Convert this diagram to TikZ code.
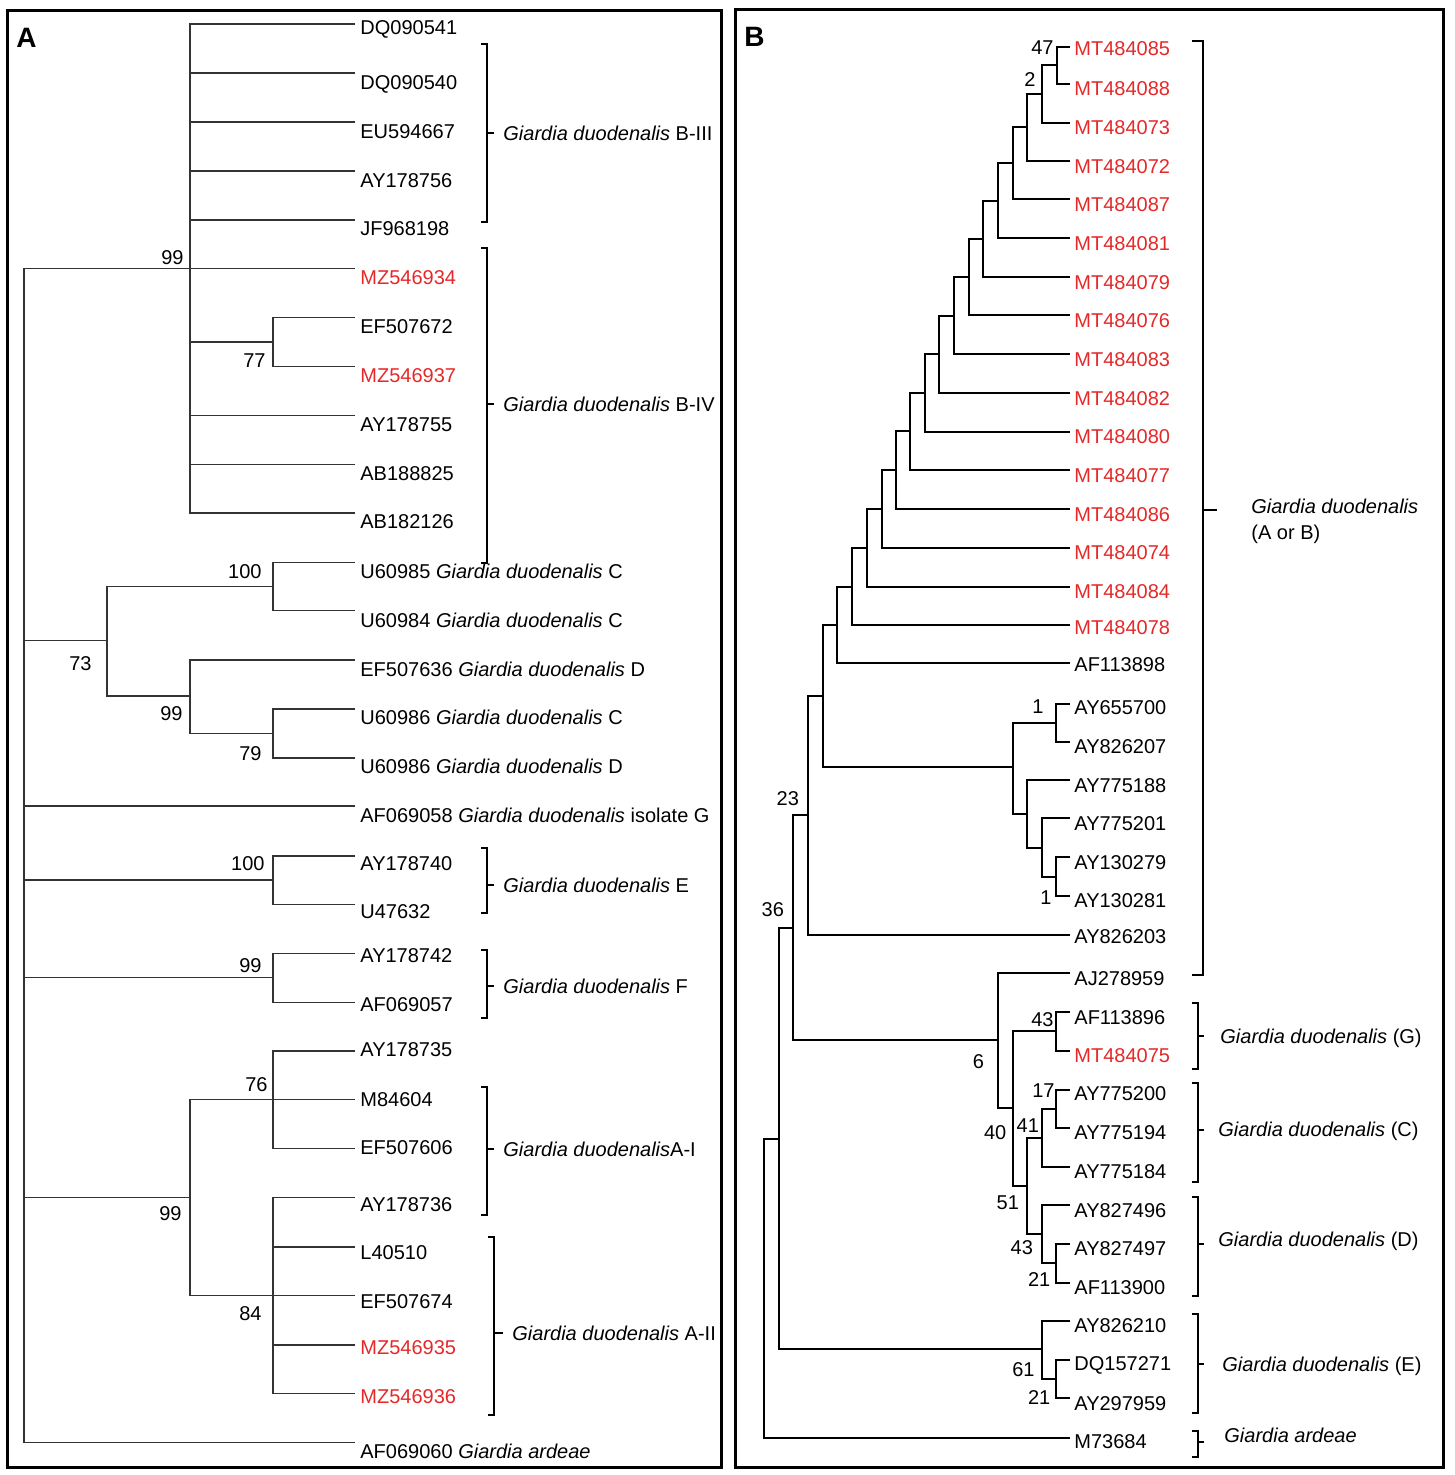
\documentclass[tikz,border=0pt]{standalone}
\usepackage{fontspec}
\setmainfont{Liberation Sans}
\usetikzlibrary{positioning}

\definecolor{isored}{RGB}{229,40,40}

\tikzset{
	branchA/.style={line width=0.65pt, black!80},
	branchB/.style={line width=1pt, black},
	leaftxt/.style={anchor=base west, inner sep=0pt, yshift=-3.6pt},
	boot/.style={inner sep=0pt},
	cladebar/.style={line width=0.7pt},
	cladetxt/.style={anchor=base west, inner sep=0pt, yshift=-3.6pt},
	panel/.style={line width=1.5pt},
	panelid/.style={anchor=base west, inner sep=0pt, font=\fontsize{14pt}{16pt}\selectfont\bfseries},
}

\begin{document}
\begin{tikzpicture}[x=0.5pt, y=-0.5pt, font=\fontsize{10pt}{12pt}\selectfont]
	\useasboundingbox (0,0) rectangle (1454,1475);
	
	% Panel frames
	\draw[panel] (7,11) rectangle (721,1467);
	\draw[panel] (735,10) rectangle (1443,1467);
	\node[panelid] (idA) at (16,48) {A};
	\node[panelid] (idB) at (744,47) {B};
	
	%%%%%%%% Panel A
	% Leaves: name / branch y / text y / colour / label
	\foreach \nm/\y/\ty/\col/\lbl in {
		a1/24/27/black/DQ090541, a2/73/82/black/DQ090540, a3/122/131/black/EU594667,
		a4/171/180/black/AY178756, a5/220/228/black/JF968198, a6/268.5/277/isored/MZ546934,
		a7/317.5/326/black/EF507672, a8/366.5/375/isored/MZ546937, a9/415.5/424/black/AY178755,
		a10/464.5/473/black/AB188825, a11/513/521/black/AB182126,
		a12/562.7/571.7/black/{U60985 \textit{Giardia duodenalis} C},
		a13/610.7/620/black/{U60984 \textit{Giardia duodenalis} C},
		a14/660/669/black/{EF507636 \textit{Giardia duodenalis} D},
		a15/709/717.5/black/{U60986 \textit{Giardia duodenalis} C},
		a16/758/766.7/black/{U60986 \textit{Giardia duodenalis} D},
		a17/806/815.5/black/{AF069058 \textit{Giardia duodenalis} isolate G},
		a18/856/863.3/black/AY178740, a19/904.3/911.7/black/U47632,
		a20/953.3/955.7/black/AY178742, a21/1002.3/1004/black/AF069057,
		a22/1051/1049/black/AY178735, a23/1099.3/1099/black/M84604, a24/1148.7/1147/black/EF507606,
		a25/1197.7/1204/black/AY178736, a26/1247/1252.5/black/L40510, a27/1295.7/1301/black/EF507674,
		a28/1345/1347.5/isored/MZ546935, a29/1393.3/1396.5/isored/MZ546936,
		a30/1442.3/1451.7/black/{AF069060 \textit{Giardia ardeae}}}{
		\coordinate (\nm) at (355,\y);
		\node[leaftxt, text=\col] (\nm-t) at (360,\ty) {\lbl};
	}
	
	% Internal nodes
	\coordinate (rootA) at (24,855);
	\coordinate (nB) at (190,268.5);
	\coordinate (n77) at (273,342);
	\coordinate (n73) at (107,640.7);
	\coordinate (nC) at (273,586.7);
	\coordinate (nCD) at (190,696);
	\coordinate (n79) at (273,733.5);
	\coordinate (nE) at (273,880);
	\coordinate (nF) at (273,977.8);
	\coordinate (nA) at (190,1197.7);
	\coordinate (n76) at (273,1099.3);
	\coordinate (n84) at (273,1295.7);
	
	% Branches
	\foreach \p/\q in {rootA/nB, nB/a1, nB/a2, nB/a3, nB/a4, nB/a5, nB/a6, nB/n77, n77/a7, n77/a8,
		nB/a9, nB/a10, nB/a11, rootA/n73, n73/nC, nC/a12, nC/a13, n73/nCD, nCD/a14, nCD/n79,
		n79/a15, n79/a16, rootA/a17, rootA/nE, nE/a18, nE/a19, rootA/nF, nF/a20, nF/a21,
		rootA/nA, nA/n76, n76/a22, n76/a23, n76/a24, nA/n84, n84/a25, n84/a26, n84/a27,
		n84/a28, n84/a29, rootA/a30}
		\draw[branchA] (\p) |- (\q);
	
	% Bootstrap values
	\node[boot, above left=1.75pt and 3pt of nB] (bsB) {99};
	\node[boot, below left=5.8pt and 3.5pt of n77] (bs77) {77};
	\node[boot, above left=3.85pt and 5.5pt of nC] (bsC) {100};
	\node[boot, below left=7.65pt and 7.5pt of n73] (bs73) {73};
	\node[boot, below left=4.85pt and 3.5pt of nCD] (bsCD) {99};
	\node[boot, below left=6.1pt and 5.5pt of n79] (bs79) {79};
	\node[boot, above left=4.65pt and 4pt of nE] (bsE) {100};
	\node[boot, above left=2.25pt and 5.5pt of nF] (bsF) {99};
	\node[boot, above left=3.8pt and 2.5pt of n76] (bs76) {76};
	\node[boot, below left=4.15pt and 4pt of nA] (bsA) {99};
	\node[boot, below left=5.15pt and 5.5pt of n84] (bs84) {84};
	
	% Clade brackets
	\foreach \x/\ya/\yb/\ym/\w in {487/44/222/133/7, 487/248/563/404/7, 487/848/913/885/7,
		487/950/1018/986/7, 487/1087/1215/1149/7, 494/1237/1415/1333/9}
		\draw[cladebar] (\x-6,\ya) -- (\x,\ya) -- (\x,\yb) -- (\x-6,\yb) (\x,\ym) -- (\x+\w,\ym);
	\node[cladetxt] (gB3) at (503,133) {\textit{Giardia duodenalis} B-III};
	\node[cladetxt] (gB4) at (503,404) {\textit{Giardia duodenalis} B-IV};
	\node[cladetxt] (gE) at (503,885) {\textit{Giardia duodenalis} E};
	\node[cladetxt] (gF) at (503,986) {\textit{Giardia duodenalis} F};
	\node[cladetxt] (gA1) at (503,1149) {\textit{Giardia duodenalis}A-I};
	\node[cladetxt] (gA2) at (512,1333) {\textit{Giardia duodenalis} A-II};
	
	%%%%%%%% Panel B
	% Leaves: name / branch y / text y / colour / label
	\foreach \nm/\y/\ty/\col/\lbl in {
		b1/46.7/48/isored/MT484085, b2/84.3/88/isored/MT484088, b3/122.7/127/isored/MT484073,
		b4/161/166/isored/MT484072, b5/199.3/204/isored/MT484087, b6/238.3/243/isored/MT484081,
		b7/276.7/282/isored/MT484079, b8/315/320/isored/MT484076, b9/354.3/359/isored/MT484083,
		b10/392.7/398/isored/MT484082, b11/431.7/436/isored/MT484080, b12/470/475/isored/MT484077,
		b13/509.3/514/isored/MT484086, b14/548.3/552/isored/MT484074, b15/586.7/591/isored/MT484084,
		b16/625/627/isored/MT484078, b17/663.3/664/black/AF113898, b18/704/707/black/AY655700,
		b19/741.7/746/black/AY826207, b20/780/785/black/AY775188, b21/818.3/823/black/AY775201,
		b22/857.3/862/black/AY130279, b23/896/900/black/AY130281, b24/935/936/black/AY826203,
		b25/973.3/978/black/AJ278959, b26/1011.7/1017/black/AF113896, b27/1050.7/1055/isored/MT484075,
		b28/1090/1093/black/AY775200, b29/1128.3/1132/black/AY775194, b30/1166.7/1171/black/AY775184,
		b31/1205/1210/black/AY827496, b32/1244/1248/black/AY827497, b33/1282.7/1287/black/AF113900,
		b34/1321/1325/black/AY826210, b35/1360/1363/black/DQ157271, b36/1398.3/1403/black/AY297959,
		b37/1437.7/1441/black/M73684}{
		\coordinate (\nm) at (1070,\y);
		\node[leaftxt, text=\col] (\nm-t) at (1074,\ty) {\lbl};
	}
	
	% Internal nodes
	\coordinate (rootB) at (764.3,1288);
	\coordinate (nR) at (779.3,1138.8);
	\coordinate (n19) at (793.3,927.5);
	\coordinate (n18) at (808.3,815);
	\coordinate (n17) at (822.7,695.8);
	\coordinate (n16) at (837.3,624.9);
	\coordinate (n15) at (852.3,586.5);
	\coordinate (n14) at (866.7,548);
	\coordinate (n13) at (881.7,509.4);
	\coordinate (n12) at (895.7,470.4);
	\coordinate (n11) at (910.3,431.5);
	\coordinate (n10) at (925,393);
	\coordinate (n9) at (939.3,354.2);
	\coordinate (n8) at (954,315.6);
	\coordinate (n7) at (968.7,276.9);
	\coordinate (n6) at (983.3,238.8);
	\coordinate (n5) at (997.7,200.9);
	\coordinate (n4) at (1012.7,163.4);
	\coordinate (n3) at (1027.3,127.5);
	\coordinate (n2) at (1042.3,94);
	\coordinate (n1) at (1056.7,65.5);
	\coordinate (y0) at (1012.7,766.7);
	\coordinate (y1) at (1056,722.9);
	\coordinate (y2) at (1027.3,813.8);
	\coordinate (y3) at (1041.7,847.5);
	\coordinate (y4) at (1056,876.7);
	\coordinate (g0) at (997.7,1040);
	\coordinate (g1) at (1012.7,1108.3);
	\coordinate (g2) at (1056,1031.2);
	\coordinate (g3) at (1027.3,1186.2);
	\coordinate (g4) at (1041.7,1137.5);
	\coordinate (g5) at (1056,1109.2);
	\coordinate (g6) at (1041.7,1234.2);
	\coordinate (g7) at (1056,1263.3);
	\coordinate (e0) at (1041.7,1348.8);
	\coordinate (e1) at (1056,1379);
	
	% Branches
	\foreach \p/\q in {rootB/nR, rootB/b37, nR/n19, nR/e0, n19/n18, n19/g0, n18/n17, n18/b24,
		n17/n16, n17/y0, n16/n15, n16/b17, n15/n14, n15/b16, n14/n13, n14/b15, n13/n12, n13/b14,
		n12/n11, n12/b13, n11/n10, n11/b12, n10/n9, n10/b11, n9/n8, n9/b10, n8/n7, n8/b9,
		n7/n6, n7/b8, n6/n5, n6/b7, n5/n4, n5/b6, n4/n3, n4/b5, n3/n2, n3/b4, n2/n1, n2/b3,
		n1/b1, n1/b2, y0/y1, y0/y2, y1/b18, y1/b19, y2/b20, y2/y3, y3/b21, y3/y4, y4/b22, y4/b23,
		g0/b25, g0/g1, g1/g2, g1/g3, g2/b26, g2/b27, g3/g4, g3/g6, g4/g5, g4/b30, g5/b28, g5/b29,
		g6/b31, g6/g7, g7/b32, g7/b33, e0/b34, e0/e1, e1/b35, e1/b36}
		\draw[branchB] (\p) |- (\q);
	
	% Bootstrap values
	\node[boot, above left=5.5pt and 1.35pt of n1] (bs1) {47};
	\node[boot, above left=3.5pt and 3.15pt of n2] (bs2) {2};
	\node[boot, above left=4.45pt and 6pt of y1] (bsy1) {1};
	\node[boot, below left=7pt and 2pt of y4] (bsy4) {1};
	\node[boot, above left=4.5pt and 4.5pt of n18] (bs18) {23};
	\node[boot, above left=5.4pt and 4.5pt of n19] (bs19) {36};
	\node[boot, below left=7.15pt and 6.7pt of g0] (bsg0) {6};
	\node[boot, above left=2.25pt and 1pt of g2] (bsg2) {43};
	\node[boot, below left=8.35pt and 3pt of g1] (bsg1) {40};
	\node[boot, above left=2.1pt and 1.2pt of g4] (bsg4) {41};
	\node[boot, above left=5.45pt and 0.5pt of g5] (bsg5) {17};
	\node[boot, below left=4.4pt and 4pt of g3] (bsg3) {51};
	\node[boot, below left=2.9pt and 4.2pt of g6] (bsg6) {43};
	\node[boot, below left=4.2pt and 2.65pt of g7] (bsg7) {21};
	\node[boot, below left=6.45pt and 3.35pt of e0] (bse0) {61};
	\node[boot, below left=5.5pt and 2.65pt of e1] (bse1) {21};
	
	% Clade brackets
	\foreach \x/\ya/\yb/\ym/\s/\w in {1203/41/975/510/11/14, 1198/1003/1069/1036/6/6,
		1198/1083/1182/1130/6/6, 1198/1197/1296/1244/6/6, 1198/1314/1413/1364/6/6,
		1198/1431/1457/1442/6/6}
		\draw[cladebar] (\x-\s,\ya) -- (\x,\ya) -- (\x,\yb) -- (\x-\s,\yb) (\x,\ym) -- (\x+\w,\ym);
	\node[cladetxt] (gAB) at (1251,506) {\textit{Giardia duodenalis}};
	\node[anchor=base west, inner sep=0pt] (gAB2) at ([yshift=-13pt]gAB.base west) {(A or B)};
	\node[cladetxt] (gG) at (1220,1036) {\textit{Giardia duodenalis} (G)};
	\node[cladetxt] (gC) at (1218,1129) {\textit{Giardia duodenalis} (C)};
	\node[cladetxt] (gD) at (1218,1239) {\textit{Giardia duodenalis} (D)};
	\node[cladetxt] (gEB) at (1222,1364) {\textit{Giardia duodenalis} (E)};
	\node[cladetxt] (gArd) at (1224,1435) {\textit{Giardia ardeae}};
	
\end{tikzpicture}
\end{document}
